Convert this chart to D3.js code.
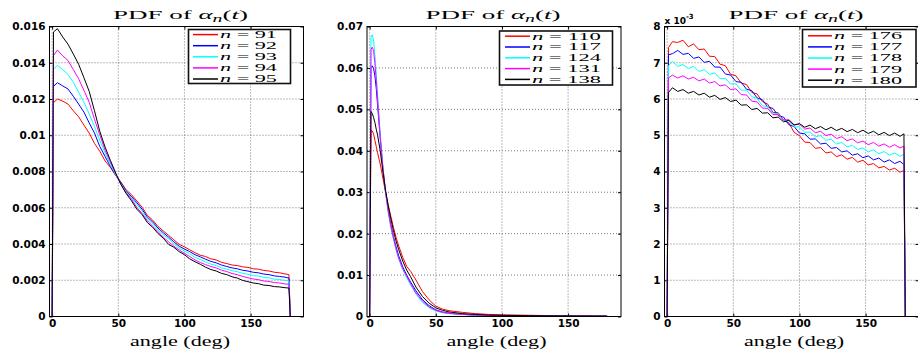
<!DOCTYPE html>
<html><head><meta charset="utf-8">
<script src="https://cdn.jsdelivr.net/npm/d3@7"></script>
<style>body{margin:0;background:#fff}svg{display:block}</style>
</head><body>
<svg id="c" width="918" height="354"></svg>
<script>
// ---------- DATA ----------
const xTicks = [0, 50, 100, 150];
const xDomain = [-2, 190];
const seriesColors = ["#ff0000", "#0000ff", "#00ffff", "#ff00ff", "#000000"];

// panel 1 & 3 sample angles (deg)
const anglesA = [0,1,4,8,12,16,20,24,28,32,36,40,44,48,52,56,60,64,68,72,76,80,84,88,92,96,100,104,108,112,116,120,124,128,132,136,140,144,148,152,156,160,164,168,172,176,179,180];
// panel 2 sample angles (deg)
const anglesB = [0,1,2,3,4,5,6,8,10,12,14,16,18,20,22,25,28,31,35,40,45,50,55,60,70,80,90,100,120,140,160,179,180];

// Panel 1 : n = 91..95
const p1Names = ["91", "92", "93", "94", "95"];
const p1_n91 = [0,.01180,.01200,.01188,.01172,.01135,.01102,.01056,.01012,.00955,.00912,.00858,.00823,.00778,.00742,.00698,.00672,.00638,.00603,.00558,.00532,.00497,.00472,.00448,.00423,.00398,.00384,.00368,.00352,.00338,.00331,.00318,.00312,.00299,.00292,.00284,.00281,.00274,.00271,.00263,.00261,.00254,.00251,.00244,.00241,.00235,.00231,0];
const p1_n92 = [0,.01270,.01290,.01272,.01255,.01215,.01172,.01128,.01068,.01012,.00938,.00883,.00828,.00781,.00738,.00692,.00662,.00628,.00592,.00548,.00522,.00488,.00462,.00438,.00412,.00388,.00372,.00358,.00341,.00329,.00316,.00304,.00296,.00284,.00276,.00268,.00263,.00255,.00251,.00244,.00241,.00234,.00231,.00224,.00221,.00217,.00212,0];
const p1_n93 = [0,.01365,.01385,.01362,.01335,.01292,.01238,.01182,.01118,.01048,.00972,.00902,.00838,.00782,.00732,.00688,.00655,.00618,.00582,.00538,.00512,.00478,.00452,.00428,.00401,.00378,.00361,.00346,.00326,.00314,.00301,.00289,.00281,.00269,.00261,.00253,.00247,.00238,.00233,.00226,.00223,.00215,.00213,.00206,.00204,.00199,.00196,0];
const p1_n94 = [0,.01440,.01470,.01438,.01412,.01362,.01312,.01248,.01182,.01088,.01002,.00918,.00852,.00788,.00728,.00682,.00648,.00602,.00568,.00528,.00498,.00468,.00438,.00412,.00388,.00368,.00348,.00331,.00312,.00298,.00286,.00276,.00268,.00256,.00248,.00237,.00231,.00221,.00214,.00207,.00203,.00196,.00193,.00187,.00185,.00180,.00178,0];
const p1_n95 = [0,.01570,.01588,.01542,.01502,.01448,.01392,.01318,.01242,.01135,.01022,.00935,.00862,.00792,.00728,.00678,.00638,.00592,.00562,.00518,.00492,.00458,.00432,.00398,.00382,.00358,.00341,.00318,.00302,.00288,.00272,.00259,.00251,.00238,.00231,.00219,.00212,.00199,.00192,.00185,.00181,.00173,.00171,.00165,.00163,.00159,.00157,0];
const p1YTicks = [0,0.002,0.004,0.006,0.008,0.01,0.012,0.014,0.016];
const p1YLabels = ["0","0.002","0.004","0.006","0.008","0.01","0.012","0.014","0.016"];

// Panel 2 : n = 110,117,124,131,138
const p2Names = ["110", "117", "124", "131", "138"];
const p2_n110 = [0,.0450,.0448,.0440,.0425,.0410,.0395,.0368,.0334,.0300,.0270,.0242,.0215,.0191,.0170,.0143,.0121,.0109,.0088,.0060,.0040,.0025,.0018,.0014,.0010,.0007,.0005,.0004,.0003,.0002,.00015,.00012,0];
const p2_n117 = [0,.0600,.0605,.0598,.0580,.0550,.0510,.0430,.0358,.0302,.0258,.0222,.0193,.0168,.0146,.0120,.0100,.0083,.0062,.0040,.0026,.0016,.0011,.0008,.0005,.00035,.00025,.0002,.00013,.0001,.00008,.00006,0];
const p2_n124 = [0,.0677,.0680,.0665,.0630,.0585,.0535,.0440,.0360,.0300,.0252,.0215,.0186,.0160,.0138,.0113,.0094,.0076,.0054,.0034,.0021,.00135,.0009,.0007,.0005,.00035,.00025,.0002,.00012,.00008,.00006,.00005,0];
const p2_n131 = [0,.0645,.0650,.0640,.0610,.0570,.0525,.0435,.0360,.0302,.0255,.0218,.0189,.0163,.0141,.0116,.0097,.0079,.0057,.0037,.0023,.0015,.0010,.00075,.0005,.00035,.00025,.0002,.00012,.00009,.00007,.00005,0];
const p2_n138 = [0,.0495,.0490,.0480,.0468,.0452,.0438,.0400,.0350,.0305,.0268,.0236,.0207,.0182,.0161,.0134,.0112,.0096,.0071,.0048,.0032,.0021,.0015,.0011,.0007,.0005,.00035,.00028,.0002,.00015,.00012,.0001,0];
const p2YTicks = [0,0.01,0.02,0.03,0.04,0.05,0.06,0.07];
const p2YLabels = ["0","0.01","0.02","0.03","0.04","0.05","0.06","0.07"];

// Panel 3 : n = 176..180 (values in units of 1e-3)
const p3Names = ["176", "177", "178", "179", "180"];
const p3_n176 = [0,7.42,7.58,7.56,7.62,7.44,7.52,7.36,7.38,7.18,7.17,6.96,6.92,6.68,6.64,6.44,6.40,6.18,6.14,5.93,5.86,5.63,5.62,5.41,5.34,5.08,4.99,4.81,4.80,4.64,4.66,4.51,4.54,4.41,4.46,4.34,4.39,4.26,4.31,4.18,4.22,4.10,4.14,4.04,4.09,3.98,4.03,0];
const p3_n177 = [0,7.22,7.25,7.34,7.23,7.26,7.12,7.16,7.01,7.04,6.88,6.88,6.69,6.66,6.48,6.46,6.27,6.23,6.03,5.98,5.78,5.74,5.54,5.50,5.29,5.24,5.06,5.04,4.89,4.90,4.76,4.78,4.64,4.66,4.54,4.57,4.45,4.49,4.38,4.43,4.32,4.37,4.26,4.32,4.22,4.28,4.19,0];
const p3_n178 = [0,6.92,7.04,6.90,6.95,6.84,6.90,6.76,6.81,6.68,6.72,6.56,6.57,6.41,6.42,6.24,6.25,6.06,6.02,5.81,5.79,5.61,5.59,5.41,5.40,5.23,5.23,5.08,5.09,4.96,4.99,4.86,4.89,4.76,4.80,4.68,4.72,4.61,4.65,4.54,4.60,4.49,4.55,4.45,4.51,4.42,4.47,0];
const p3_n179 = [0,6.58,6.66,6.58,6.64,6.55,6.60,6.50,6.55,6.44,6.48,6.36,6.39,6.26,6.28,6.12,6.11,5.94,5.92,5.75,5.74,5.57,5.57,5.42,5.43,5.29,5.31,5.17,5.20,5.07,5.11,4.99,5.03,4.91,4.96,4.85,4.90,4.79,4.84,4.74,4.80,4.70,4.76,4.67,4.74,4.65,4.70,0];
const p3_n180 = [0,6.18,6.31,6.21,6.26,6.16,6.21,6.11,6.16,6.05,6.10,5.99,6.04,5.93,5.97,5.83,5.84,5.71,5.74,5.61,5.62,5.48,5.50,5.37,5.41,5.28,5.32,5.22,5.28,5.18,5.24,5.15,5.22,5.13,5.19,5.10,5.16,5.07,5.14,5.05,5.11,5.01,5.08,4.99,5.06,4.97,5.04,0];
const p3YTicks = [0,1,2,3,4,5,6,7,8];
const p3YLabels = ["0","1","2","3","4","5","6","7","8"];

const panels = [
  {angles: anglesA, series: [p1_n91,p1_n92,p1_n93,p1_n94,p1_n95], names: p1Names, yTicks: p1YTicks, yLabels: p1YLabels},
  {angles: anglesB, series: [p2_n110,p2_n117,p2_n124,p2_n131,p2_n138], names: p2Names, yTicks: p2YTicks, yLabels: p2YLabels},
  {angles: anglesA, series: [p3_n176,p3_n177,p3_n178,p3_n179,p3_n180], names: p3Names, yTicks: p3YTicks, yLabels: p3YLabels, exponent: "-3"}
];

// ---------- LAYOUT ----------
const TOP = 26.5, BOTTOM = 316.5, W = 254;
const layout = [
  {left: 49.5, titleX: 180.5, xlabX: 180, lg: {x: 188.5, y: 29.5, w: 102, h: 54, r0: 34.6, dr: 11.1, l1: 193, l2: 218, tx: 220, tl: 57}},
  {left: 367, titleX: 493, xlabX: 496.5, lg: {x: 499.5, y: 31, w: 113, h: 54, r0: 36.2, dr: 10.8, l1: 505, l2: 530, tx: 532, tl: 69}},
  {left: 664.5, titleX: 796, xlabX: 794, lg: {x: 802.5, y: 29.5, w: 113.5, h: 57.5, r0: 35.8, dr: 11.1, l1: 808, l2: 832, tx: 834, tl: 68}}
];

const svg = d3.select("#c");
const tickFont = "'DejaVu Sans', sans-serif";
const serif = "'Liberation Serif', 'DejaVu Serif', serif";

panels.forEach((p, i) => {
  const L = layout[i];
  const yMax = p.yTicks[p.yTicks.length - 1];
  const x = d3.scaleLinear().domain(xDomain).range([L.left, L.left + W]);
  const y = d3.scaleLinear().domain([0, yMax]).range([BOTTOM, TOP]);
  const g = svg.append("g");

  // grid
  g.append("g").selectAll("line").data(xTicks).join("line")
    .attr("x1", d => x(d)).attr("x2", d => x(d)).attr("y1", TOP).attr("y2", BOTTOM)
    .attr("stroke", "#555").attr("stroke-width", 0.8).attr("stroke-dasharray", "1,2");
  g.append("g").selectAll("line").data(p.yTicks.filter(t => t > 0 && t < yMax)).join("line")
    .attr("x1", L.left).attr("x2", L.left + W).attr("y1", d => y(d)).attr("y2", d => y(d))
    .attr("stroke", "#555").attr("stroke-width", 0.8).attr("stroke-dasharray", "1,2");

  // axes
  const styleAxis = sel => {
    sel.select(".domain").remove();
    sel.selectAll(".tick line").attr("stroke", "#000");
    sel.attr("font-family", tickFont).attr("font-size", 10.5).attr("font-weight", "bold");
    sel.selectAll("text").attr("fill", "#000");
  };
  g.append("g").attr("transform", `translate(0,${BOTTOM})`)
    .call(d3.axisBottom(x).tickValues(xTicks).tickSize(-3).tickPadding(3)).call(styleAxis);
  g.append("g").attr("transform", `translate(0,${TOP})`)
    .call(d3.axisTop(x).tickValues(xTicks).tickSize(-3).tickFormat("")).call(styleAxis);
  g.append("g").attr("transform", `translate(${L.left},0)`)
    .call(d3.axisLeft(y).tickValues(p.yTicks).tickSize(-3).tickPadding(4).tickFormat((d, k) => p.yLabels[k])).call(styleAxis);
  g.append("g").attr("transform", `translate(${L.left + W},0)`)
    .call(d3.axisRight(y).tickValues(p.yTicks).tickSize(-3).tickFormat("")).call(styleAxis);

  // lines
  const line = d3.line().x((d, k) => x(p.angles[k])).y(d => y(d));
  p.series.forEach((s, k) => {
    g.append("path").datum(s).attr("d", line).attr("fill", "none")
      .attr("stroke", seriesColors[k]).attr("stroke-width", 1).attr("stroke-linejoin", "round");
  });

  // box
  g.append("rect").attr("x", L.left).attr("y", TOP).attr("width", W).attr("height", BOTTOM - TOP)
    .attr("fill", "none").attr("stroke", "#000").attr("stroke-width", 1);

  // exponent label
  if (p.exponent) {
    const t = g.append("text").attr("x", L.left).attr("y", 23.5)
      .attr("font-family", tickFont).attr("font-weight", "bold").attr("font-size", 9);
    t.append("tspan").text("x 10");
    t.append("tspan").attr("dy", -5).attr("font-size", 7).text(p.exponent);
  }

  // title
  const tt = g.append("text").attr("x", L.titleX).attr("y", 18.5).attr("text-anchor", "middle")
    .attr("font-family", serif).attr("font-size", 13).attr("textLength", 135).attr("lengthAdjust", "spacingAndGlyphs");
  tt.append("tspan").text("PDF of ");
  tt.append("tspan").attr("font-style", "italic").text("α");
  tt.append("tspan").attr("font-style", "italic").attr("font-size", 9.5).attr("dy", 3).text("n");
  tt.append("tspan").attr("dy", -3).text("(");
  tt.append("tspan").attr("font-style", "italic").text("t");
  tt.append("tspan").text(")");

  // x label
  g.append("text").attr("x", L.xlabX).attr("y", 346).attr("text-anchor", "middle")
    .attr("font-family", serif).attr("font-size", 14).attr("textLength", 100).attr("lengthAdjust", "spacingAndGlyphs")
    .text("angle (deg)");

  // legend
  const lg = L.lg;
  g.append("rect").attr("x", lg.x).attr("y", lg.y).attr("width", lg.w).attr("height", lg.h)
    .attr("fill", "#fff").attr("stroke", "#111").attr("stroke-width", 1.6);
  p.names.forEach((nm, k) => {
    const yy = lg.r0 + k * lg.dr;
    g.append("line").attr("x1", lg.l1).attr("x2", lg.l2).attr("y1", yy).attr("y2", yy)
      .attr("stroke", seriesColors[k]).attr("stroke-width", 1.5);
    const t = g.append("text").attr("x", lg.tx).attr("y", yy + 3.4)
      .attr("font-family", serif).attr("font-size", 9.5)
      .attr("textLength", lg.tl).attr("lengthAdjust", "spacingAndGlyphs");
    t.append("tspan").attr("font-style", "italic").text("n");
    t.append("tspan").text(" = " + nm);
  });
});
</script>
</body></html>
